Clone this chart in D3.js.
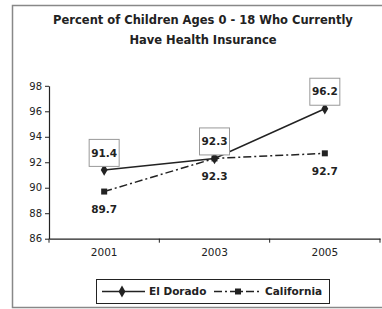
<!DOCTYPE html>
<html><head><meta charset="utf-8">
<script src="https://cdn.jsdelivr.net/npm/d3@7"></script>
<style>body{margin:0;background:#fff}svg{display:block;font-family:"DejaVu Sans",sans-serif}</style>
</head><body>
<svg id="c" width="382" height="309"></svg>
<script>
const categories = ["2001", "2003", "2005"];
const elDorado = [91.4, 92.3, 96.2];
const california = [89.7, 92.3, 92.7];
const yTicks = [86, 88, 90, 92, 94, 96, 98];
const seriesNames = ["El Dorado", "California"];
const titleLines = ["Percent of Children Ages 0 - 18 Who Currently", "Have Health Insurance"];

const FONT = "DejaVu Sans, sans-serif";
const svg = d3.select("#c");
const ink = "#222";
svg.append("rect").attr("x", 12.5).attr("y", 5.5).attr("width", 400).attr("height", 302)
  .attr("fill", "none").attr("stroke", "#888").attr("stroke-width", 1.5);

svg.selectAll("text.title").data(titleLines).enter().append("text")
  .attr("x", 203).attr("y", (d, i) => 24 + i * 19.5).attr("text-anchor", "middle")
  .attr("font-weight", "bold").attr("font-size", 11.5).attr("fill", ink).text(d => d);

const x = d3.scaleBand().domain(categories).range([49, 380]);
const y = d3.scaleLinear().domain([86, 98]).range([238.7, 85.8]);

const xAxis = d3.axisBottom(x).tickSize(0).tickPadding(10);
const gx = svg.append("g").attr("transform", "translate(0,238.7)").call(xAxis);
gx.select(".domain").attr("stroke", ink).attr("stroke-width", 1.2);
gx.selectAll("text").attr("font-size", 10.5).attr("fill", ink).attr("font-family", FONT);
const bounds = categories.map(c => x(c)).concat([x.range()[1]]);
gx.selectAll("line.b").data(bounds).enter().append("line")
  .attr("x1", d => d).attr("x2", d => d).attr("y1", 0).attr("y2", 4).attr("stroke", ink);

const yAxis = d3.axisLeft(y).tickValues(yTicks).tickSize(4).tickSizeOuter(0).tickPadding(3);
const gy = svg.append("g").attr("transform", "translate(49,0)").call(yAxis);
gy.select(".domain").attr("stroke", ink).attr("stroke-width", 1.2);
gy.selectAll("line").attr("stroke", ink);
gy.selectAll("text").attr("font-size", 10).attr("fill", ink).attr("font-family", FONT);

const cx = c => x(c) + x.bandwidth() / 2;
const line = d3.line().x((d, i) => cx(categories[i])).y(d => y(d));

svg.append("path").datum(california).attr("d", line).attr("fill", "none")
  .attr("stroke", ink).attr("stroke-width", 1.5).attr("stroke-dasharray", "8,3,2,3");
svg.append("path").datum(elDorado).attr("d", line).attr("fill", "none")
  .attr("stroke", ink).attr("stroke-width", 1.5);

svg.selectAll("path.sq").data(california).enter().append("path")
  .attr("transform", (d, i) => `translate(${cx(categories[i])},${y(d)})`)
  .attr("d", d3.symbol().type(d3.symbolSquare).size(36)()).attr("fill", ink);
svg.selectAll("path.dm").data(elDorado).enter().append("path")
  .attr("transform", (d, i) => `translate(${cx(categories[i])},${y(d)})`)
  .attr("d", d3.symbol().type(d3.symbolDiamond).size(40)()).attr("fill", ink);

const ed = svg.selectAll("g.ed").data(elDorado).enter().append("g")
  .attr("transform", (d, i) => `translate(${cx(categories[i])},${y(d) - 17})`);
ed.append("rect").attr("x", -15).attr("y", -13.5).attr("width", 30).attr("height", 27)
  .attr("fill", "#fff").attr("stroke", "#999").attr("stroke-width", 1);
ed.append("text").attr("text-anchor", "middle").attr("dy", "0.35em")
  .attr("font-size", 10.5).attr("font-weight", "bold").attr("fill", ink).text(d => d.toFixed(1));

svg.selectAll("text.ca").data(california).enter().append("text")
  .attr("x", (d, i) => cx(categories[i])).attr("y", d => y(d) + 18).attr("dy", "0.35em")
  .attr("text-anchor", "middle").attr("font-size", 10.5).attr("font-weight", "bold").attr("fill", ink)
  .text(d => d.toFixed(1));

const lg = svg.append("g");
lg.append("rect").attr("x", 96.5).attr("y", 279.5).attr("width", 233).attr("height", 24)
  .attr("fill", "#fff").attr("stroke", ink).attr("stroke-width", 1);
const ly = 291.5;
lg.append("line").attr("x1", 102).attr("x2", 145).attr("y1", ly).attr("y2", ly).attr("stroke", ink).attr("stroke-width", 1.5);
lg.append("path").attr("transform", `translate(122,${ly})`).attr("d", d3.symbol().type(d3.symbolDiamond).size(40)()).attr("fill", ink);
lg.append("text").attr("x", 149).attr("y", ly).attr("dy", "0.35em").attr("font-size", 10.5).attr("font-weight", "bold").attr("fill", ink).text(seriesNames[0]);
lg.append("line").attr("x1", 214).attr("x2", 262).attr("y1", ly).attr("y2", ly).attr("stroke", ink).attr("stroke-width", 1.5).attr("stroke-dasharray", "8,3,2,3");
lg.append("path").attr("transform", `translate(238,${ly})`).attr("d", d3.symbol().type(d3.symbolSquare).size(36)()).attr("fill", ink);
lg.append("text").attr("x", 265).attr("y", ly).attr("dy", "0.35em").attr("font-size", 10.5).attr("font-weight", "bold").attr("fill", ink).text(seriesNames[1]);
</script>
</body></html>
